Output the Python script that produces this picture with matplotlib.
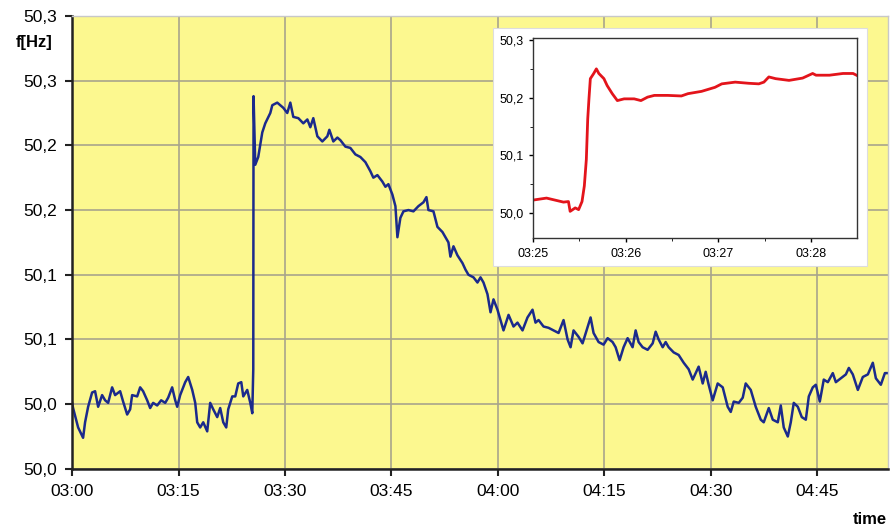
import matplotlib
matplotlib.use("Agg")
import matplotlib.pyplot as plt
from matplotlib.patches import Rectangle

plt.rcParams['font.family'] = ['Liberation Sans', 'DejaVu Sans']

# main series: minutes after 03:00 and frequency in Hz
main_min = [0.0, 0.14, 0.85, 1.55, 1.83, 2.26, 2.82, 3.24, 3.67, 4.23, 4.65, 5.08, 5.64, 6.06,
            6.77, 7.19, 7.76, 8.18, 8.46, 9.17, 9.59, 10.01, 10.58, 11.0, 11.42, 11.99, 12.55,
            13.12, 13.54, 14.10, 14.53, 14.81, 15.23, 15.94, 16.36, 16.93, 17.35, 17.63, 18.05,
            18.48, 19.04, 19.46, 19.89, 20.45, 20.87, 21.30, 21.72, 22.0, 22.57, 22.99, 23.41,
            23.84, 24.12, 24.68, 25.11, 25.39, 25.53, 25.57, 25.81, 26.23, 26.80, 27.22, 27.93,
            28.21, 28.91, 29.34, 29.76, 30.32, 30.75, 31.17, 31.88, 32.58, 33.15, 33.57, 33.99,
            34.56, 35.26, 35.97, 36.25, 36.81, 37.38, 37.80, 38.51, 39.21, 39.92, 40.62, 41.33,
            42.03, 42.45, 43.02, 43.72, 44.15, 44.57, 45.13, 45.56, 45.84, 46.26, 46.69, 47.39,
            48.10, 48.80, 49.51, 49.93, 50.21, 50.92, 51.48, 52.19, 52.61, 53.03, 53.31, 53.74,
            54.30, 55.01, 55.43, 55.85, 56.56, 57.12, 57.55, 57.97, 58.53, 58.96, 59.38, 59.94,
            60.37, 60.79, 61.50, 62.20, 62.76, 63.47, 64.17, 64.88, 65.30, 65.73, 66.43, 67.14,
            67.84, 68.55, 69.25, 69.82, 70.24, 70.66, 71.37, 71.93, 72.50, 73.06, 73.48, 74.19,
            74.89, 75.46, 76.16, 76.59, 77.15, 77.71, 78.28, 78.98, 79.41, 79.83, 80.39, 81.10,
            81.81, 82.23, 82.65, 83.22, 83.64, 84.06, 84.77, 85.47, 86.18, 86.88, 87.45, 87.87,
            88.29, 88.86, 89.28, 89.70, 90.27, 90.97, 91.68, 92.38, 92.81, 93.23, 93.94, 94.50,
            94.92, 95.63, 96.33, 97.04, 97.46, 98.17, 98.73, 99.44, 99.86, 100.28, 100.85,
            101.27, 101.69, 102.26, 102.82, 103.39, 103.81, 104.37, 104.80, 105.36, 105.92,
            106.49, 107.19, 107.62, 108.32, 109.03, 109.45, 110.01, 110.72, 111.42, 112.13,
            112.83, 113.26, 113.96, 114.53, 114.95]
main_hz = [50.031, 50.027, 50.012, 50.004, 50.016, 50.028, 50.039, 50.040, 50.028, 50.037,
           50.033, 50.031, 50.043, 50.037, 50.040, 50.032, 50.022, 50.026, 50.037, 50.036,
           50.043, 50.040, 50.033, 50.027, 50.031, 50.029, 50.033, 50.031, 50.035, 50.043,
           50.033, 50.028, 50.037, 50.047, 50.051, 50.041, 50.031, 50.016, 50.012, 50.016,
           50.009, 50.031, 50.026, 50.020, 50.027, 50.016, 50.012, 50.026, 50.036, 50.036,
           50.046, 50.047, 50.036, 50.041, 50.031, 50.023, 50.057, 50.268, 50.215, 50.221,
           50.240, 50.247, 50.255, 50.261, 50.263, 50.261, 50.259, 50.255, 50.263, 50.252,
           50.251, 50.247, 50.250, 50.244, 50.251, 50.237, 50.233, 50.237, 50.242, 50.233,
           50.236, 50.234, 50.229, 50.228, 50.223, 50.221, 50.217, 50.210, 50.205, 50.207,
           50.202, 50.198, 50.200, 50.192, 50.183, 50.159, 50.174, 50.179, 50.180, 50.179,
           50.183, 50.186, 50.190, 50.180, 50.179, 50.167, 50.163, 50.159, 50.155, 50.144,
           50.152, 50.145, 50.139, 50.134, 50.130, 50.128, 50.124, 50.128, 50.124, 50.115,
           50.101, 50.111, 50.103, 50.095, 50.087, 50.099, 50.090, 50.093, 50.087, 50.097,
           50.103, 50.093, 50.095, 50.090, 50.089, 50.087, 50.085, 50.095, 50.080, 50.074,
           50.087, 50.082, 50.077, 50.087, 50.097, 50.085, 50.078, 50.076, 50.081, 50.078,
           50.074, 50.064, 50.074, 50.081, 50.074, 50.087, 50.078, 50.074, 50.072, 50.077,
           50.086, 50.080, 50.074, 50.078, 50.074, 50.070, 50.068, 50.062, 50.057, 50.049,
           50.054, 50.059, 50.046, 50.055, 50.045, 50.033, 50.046, 50.043, 50.028, 50.024,
           50.032, 50.031, 50.035, 50.046, 50.041, 50.028, 50.018, 50.016, 50.027, 50.018,
           50.016, 50.029, 50.012, 50.005, 50.016, 50.031, 50.028, 50.020, 50.018, 50.036,
           50.043, 50.045, 50.032, 50.049, 50.047, 50.054, 50.047, 50.050, 50.053, 50.058,
           50.053, 50.041, 50.051, 50.053, 50.062, 50.050, 50.045, 50.054, 50.054]

main_xticks = [0, 15, 30, 45, 60, 75, 90, 105]
main_xlabels = ['03:00', '03:15', '03:30', '03:45', '04:00', '04:15', '04:30', '04:45']
main_yticks = [49.98, 50.03, 50.08, 50.13, 50.18, 50.23, 50.28, 50.33]
main_ylabels = ['50,0', '50,0', '50,1', '50,1', '50,2', '50,2', '50,3', '50,3']

# zoomed series: seconds after 03:25
zoom_sec = [1.1, 8.7, 19.7, 22.9, 24.0, 27.3, 29.5, 31.7, 33.2, 34.5, 35.4, 36.2, 37.1, 39.3,
            41.0, 42.6, 45.9, 48.0, 51.3, 54.6, 59.0, 65.5, 69.9, 74.2, 78.6, 87.3, 96.1,
            100.4, 109.2, 117.9, 122.3, 131.0, 139.7, 146.3, 149.6, 152.8, 157.2, 165.9,
            174.7, 181.2, 183.4, 192.1, 200.9, 207.4, 211.8]
zoom_hz = [50.023, 50.026, 50.019, 50.020, 50.003, 50.009, 50.006, 50.020, 50.047, 50.093,
           50.163, 50.198, 50.233, 50.242, 50.250, 50.242, 50.233, 50.221, 50.207, 50.195,
           50.198, 50.198, 50.195, 50.201, 50.204, 50.204, 50.203, 50.207, 50.211, 50.218,
           50.224, 50.227, 50.225, 50.224, 50.227, 50.236, 50.233, 50.230, 50.234, 50.242,
           50.239, 50.239, 50.242, 50.242, 50.236]
zoom_xticks = [0, 60, 120, 180]
zoom_xlabels = ['03:25', '03:26', '03:27', '03:28']
zoom_yticks = [50.0, 50.1, 50.2, 50.3]
zoom_ylabels = ['50,0', '50,1', '50,2', '50,3']

fig = plt.figure(figsize=(8.9, 5.31), dpi=100)
ax = fig.add_axes([0.081, 0.117, 0.917, 0.853])
ax.set_facecolor('#fcf88f')
ax.plot(main_min, main_hz, color='#1b2a8c', lw=1.8)
ax.set_xlim(0, 115)
ax.set_ylim(49.98, 50.33)
ax.set_xticks(main_xticks)
ax.set_xticklabels(main_xlabels)
ax.set_yticks(main_yticks)
ax.set_yticklabels(main_ylabels)
ax.tick_params(labelsize=12.5, length=5, width=1.5, color='#222222', pad=6)
ax.grid(True, color='#a8a48c', lw=1.2)
ax.set_axisbelow(True)
for s in ['left', 'bottom']:
    ax.spines[s].set_linewidth(1.8)
    ax.spines[s].set_color('#222222')
for s in ['top', 'right']:
    ax.spines[s].set_linewidth(1.0)
    ax.spines[s].set_color('#c8c8c8')

fig.text(0.038, 0.92, 'f[Hz]', fontsize=12, fontweight='bold', ha='center', va='center')
fig.text(0.997, 0.022, 'time', fontsize=12, fontweight='bold', ha='right', va='center')

# white box behind the inset
fig.patches.append(Rectangle((0.554, 0.499), 0.420, 0.448, transform=fig.transFigure,
                             facecolor='white', edgecolor='#dddddd', lw=0.8, zorder=2))

ins = fig.add_axes([0.599, 0.552, 0.364, 0.377], zorder=3)
ins.plot(zoom_sec, zoom_hz, color='#e3141b', lw=2.0)
ins.set_xlim(0, 210)
ins.set_ylim(49.957, 50.304)
ins.set_xticks(zoom_xticks)
ins.set_xticklabels(zoom_xlabels)
ins.set_xticks([30, 90, 150], minor=True)
ins.set_yticks(zoom_yticks)
ins.set_yticklabels(zoom_ylabels)
ins.set_yticks([50.05, 50.15, 50.25], minor=True)
ins.tick_params(labelsize=9, length=3, width=1, pad=4)
ins.tick_params(which='minor', length=2)
for s in ins.spines.values():
    s.set_linewidth(1.0)
    s.set_color('#333333')

fig.savefig('out.png', dpi=100)
